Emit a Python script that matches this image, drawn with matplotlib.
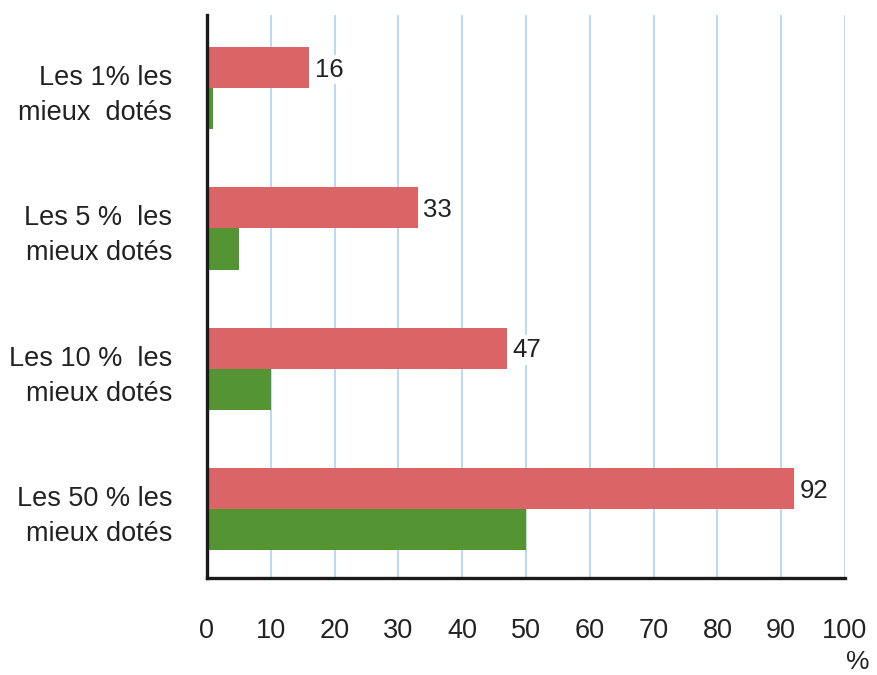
import matplotlib.pyplot as plt
import numpy as np

plt.rcParams['font.family'] = ['Liberation Sans', 'DejaVu Sans']

categories = ["Les 1% les\nmieux  dotés", "Les 5 %  les\nmieux dotés",
              "Les 10 %  les\nmieux dotés", "Les 50 % les\nmieux dotés"]
red_values = [16, 33, 47, 92]
green_values = [1, 5, 10, 50]
xticks = [0, 10, 20, 30, 40, 50, 60, 70, 80, 90, 100]

red = "#db6566"
green = "#559433"
grid_blue = "#a9d5f2"

fig = plt.figure(figsize=(8.78, 6.75), dpi=100)
ax = fig.add_axes([207/878, 1 - 578/675, (845 - 207)/878, (578 - 15)/675])

y = np.arange(len(categories))
h = 0.293
ax.barh(y - h/2, red_values, height=h, color=red, zorder=2)
ax.barh(y + h/2, green_values, height=h, color=green, zorder=2)

# value labels on the red bars, white box hides the grid behind them
for yi, v in zip(y, red_values):
    ax.annotate(str(v), (v, yi - h/2), xytext=(4, -1.5), textcoords="offset points",
                va="center", ha="left", fontsize=18.5, color="#222222",
                bbox=dict(fc="white", ec="none", pad=2), zorder=1.5)

ax.set_xlim(0, 100)
ax.set_ylim(3.49, -0.52)
ax.set_xticks(xticks)
ax.set_yticks(y)
ax.set_yticklabels(categories, linespacing=1.45)
ax.tick_params(axis="both", length=0, labelsize=19.5, colors="#222222")
ax.tick_params(axis="x", pad=29)
ax.tick_params(axis="y", pad=25)

ax.xaxis.grid(True, color=grid_blue, lw=1.2, zorder=0)
ax.set_axisbelow(True)
for s in ["top", "right"]:
    ax.spines[s].set_visible(False)
for s in ["left", "bottom"]:
    ax.spines[s].set_linewidth(2.4)
    ax.spines[s].set_color("#1a1a1a")

fig.text(858/878, 1 - 662/675, "%", fontsize=19, ha="center", va="center", color="#222222")

fig.savefig("out.png", dpi=100)
